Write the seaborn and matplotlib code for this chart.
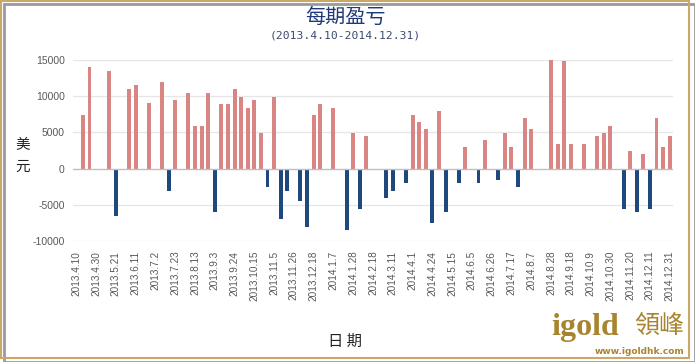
import numpy as np
import pandas as pd
import seaborn as sns
import matplotlib.pyplot as plt
from matplotlib.patches import Rectangle

# profit / loss per period (USD), one value per category, 0 = no bar
values = [
    0, 7400, 14000, 0, 0, 13500, -6600, 0, 11000, 11500,
    0, 9000, 0, 12000, -3100, 9500, 0, 10500, 5900, 5900,
    10500, -6000, 8900, 8900, 11000, 9900, 8400, 9500, 4900, -2500,
    9900, -7000, -3100, 0, -4500, -8100, 7400, 8900, 0, 8400,
    0, -8500, 4900, -5600, 4500, 0, 0, -4100, -3100, 0,
    -2000, 7400, 6400, 5500, -7500, 8000, -6000, 0, -2000, 3000,
    0, -2000, 3900, 0, -1600, 4900, 3000, -2500, 7000, 5500,
    0, 0, 15000, 3400, 14900, 3400, 0, 3400, 0, 4500,
    4900, 5900, 0, -5600, 2400, -6000, 2000, -5600, 7000, 3000,
    4500,
]

# every third category is labelled
tick_labels = [
    "2013.4.10", "2013.4.30", "2013.5.21", "2013.6.11", "2013.7.2", "2013.7.23",
    "2013.8.13", "2013.9.3", "2013.9.24", "2013.10.15", "2013.11.5", "2013.11.26",
    "2013.12.18", "2014.1.7", "2014.1.28", "2014.2.18", "2014.3.11", "2014.4.1",
    "2014.4.24", "2014.5.15", "2014.6.5", "2014.6.26", "2014.7.17", "2014.8.7",
    "2014.8.28", "2014.9.18", "2014.10.9", "2014.10.30", "2014.11.20", "2014.12.11",
    "2014.12.31",
]

pos_color = "#D88583"
neg_color = "#1F497D"

df = pd.DataFrame({"period": np.arange(len(values)), "pnl": values})
df["sign"] = np.where(df["pnl"] < 0, "neg", "pos")

sns.set_theme(style="white")
plt.rcParams["font.family"] = ["Noto Sans CJK SC", "DejaVu Sans"]

fig = plt.figure(figsize=(6.95, 3.62), dpi=100)
ax = fig.add_axes([73 / 695, 1 - 241 / 362, 600 / 695, 181 / 362])

sns.barplot(data=df, x="period", y="pnl", hue="sign",
            palette={"pos": pos_color, "neg": neg_color},
            dodge=False, width=0.6, legend=False, ax=ax, saturation=1,
            linewidth=0, edgecolor="none")

ax.set_xlim(-0.5, len(values) - 0.5)
ax.set_ylim(-10000, 15000)
ax.set_yticks([-10000, -5000, 0, 5000, 10000, 15000])
ax.set_yticklabels(["-10000", "-5000", "0", "5000", "10000", "15000"],
                   fontsize=7.5, color="#595959", family="Liberation Sans")
ax.set_xticks(np.arange(0, len(values), 3))
ax.set_xticklabels(tick_labels, rotation=90, fontsize=7.2, color="#595959",
                   family="Liberation Sans")
ax.tick_params(axis="x", length=0, pad=7)
ax.tick_params(axis="y", length=0, pad=6)
for s in ax.spines.values():
    s.set_visible(False)
for yv in [-10000, -5000, 5000, 10000, 15000]:
    ax.axhline(yv, color="#E6E6E6", lw=0.9, zorder=0)
ax.axhline(0, color="#BFBFBF", lw=1.0, zorder=3)
ax.set_xlabel("")
ax.set_ylabel("")

# titles and axis names
fig.text(0.497, 0.952, "每期盈亏", ha="center", va="center", fontsize=14.5,
         color="#1F3A7A")
fig.text(0.497, 0.903, "(2013.4.10-2014.12.31)", ha="center", va="center",
         fontsize=8.2, color="#3C4A6E", family="DejaVu Sans Mono")
fig.text(0.032, 0.57, "美\n元", ha="center", va="center", fontsize=10.5,
         color="#222222", linespacing=1.8)
fig.text(0.497, 0.058, "日 期", ha="center", va="center", fontsize=11,
         color="#222222")

# watermark
fig.text(0.793, 0.095, "igold", ha="left", va="center", fontsize=23,
         fontweight="bold", color="#A8842E", family="Liberation Serif")
fig.text(0.912, 0.1, "領峰", ha="left", va="center", fontsize=18,
         color="#A8842E", family="Noto Sans CJK TC")
fig.text(0.985, 0.03, "www.igoldhk.com", ha="right", va="center", fontsize=6.5,
         fontweight="bold", color="#A8842E", family="DejaVu Sans")

# frame with shadow
fig.patches.append(Rectangle((0.006, 0.0), 0.994, 0.99, transform=fig.transFigure,
                             facecolor="none", edgecolor="#9A9A9A", lw=2.0))
fig.patches.append(Rectangle((0.0015, 0.01), 0.99, 0.986, transform=fig.transFigure,
                             facecolor="none", edgecolor="#C9A86A", lw=1.5))

fig.savefig("out.png", dpi=100)
